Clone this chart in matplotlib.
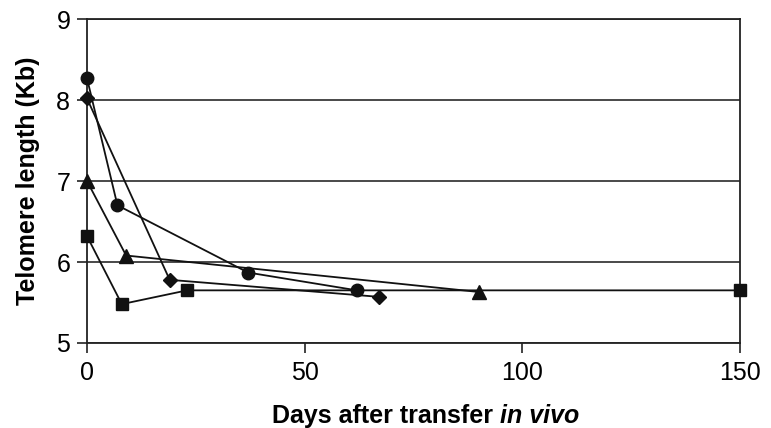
import matplotlib
matplotlib.use('Agg')
import matplotlib.pyplot as plt

plt.rcParams['font.family'] = ['Liberation Sans', 'DejaVu Sans']

# data (days, telomere length in Kb)
circle_x = [0, 7, 37, 62]
circle_y = [8.27, 6.70, 5.87, 5.65]
diamond_x = [0, 19, 67]
diamond_y = [8.02, 5.78, 5.57]
triangle_x = [0, 9, 90]
triangle_y = [7.00, 6.08, 5.63]
square_x = [0, 8, 23, 150]
square_y = [6.32, 5.48, 5.65, 5.65]

x_ticks = [0, 50, 100, 150]
y_ticks = [5, 6, 7, 8, 9]

FS = 18

fig = plt.figure(figsize=(7.71, 4.28), dpi=100)
ax = fig.add_axes([0.1128, 0.1986, 0.847, 0.7570])

for y in y_ticks:
    ax.axhline(y, color='#2a2a2a', lw=1.2, zorder=1)

line_kw = dict(color='#111111', lw=1.3, clip_on=False, zorder=3)
ax.plot(circle_x, circle_y, marker='o', ms=9, **line_kw)
ax.plot(diamond_x, diamond_y, marker='D', ms=7, **line_kw)
ax.plot(triangle_x, triangle_y, marker='^', ms=10, **line_kw)
ax.plot(square_x, square_y, marker='s', ms=8.5, **line_kw)

ax.set_xlim(0, 150)
ax.set_ylim(5, 9)
ax.set_xticks(x_ticks)
ax.set_yticks(y_ticks)
ax.tick_params(direction='out', length=7, width=1.2, labelsize=FS, color='#222222')
ax.tick_params(axis='x', pad=6)
ax.tick_params(axis='y', pad=5)
for s in ax.spines.values():
    s.set_color('#222222')
    s.set_linewidth(1.3)

ax.set_ylabel('Telomere length (Kb)', fontsize=FS, fontweight='bold', labelpad=12)

# x label with an italic part
fig.canvas.draw()
renderer = fig.canvas.get_renderer()
t1 = fig.text(0, 0.012, 'Days after transfer ', fontsize=FS, fontweight='bold')
t2 = fig.text(0, 0.012, 'in vivo', fontsize=FS, fontweight='bold', style='italic')
w1 = t1.get_window_extent(renderer).width
w2 = t2.get_window_extent(renderer).width
fw = fig.get_figwidth() * fig.dpi
cx = 426
start = cx - (w1 + w2) / 2
t1.set_x(start / fw)
t2.set_x((start + w1) / fw)

fig.savefig('out.png', dpi=100)
